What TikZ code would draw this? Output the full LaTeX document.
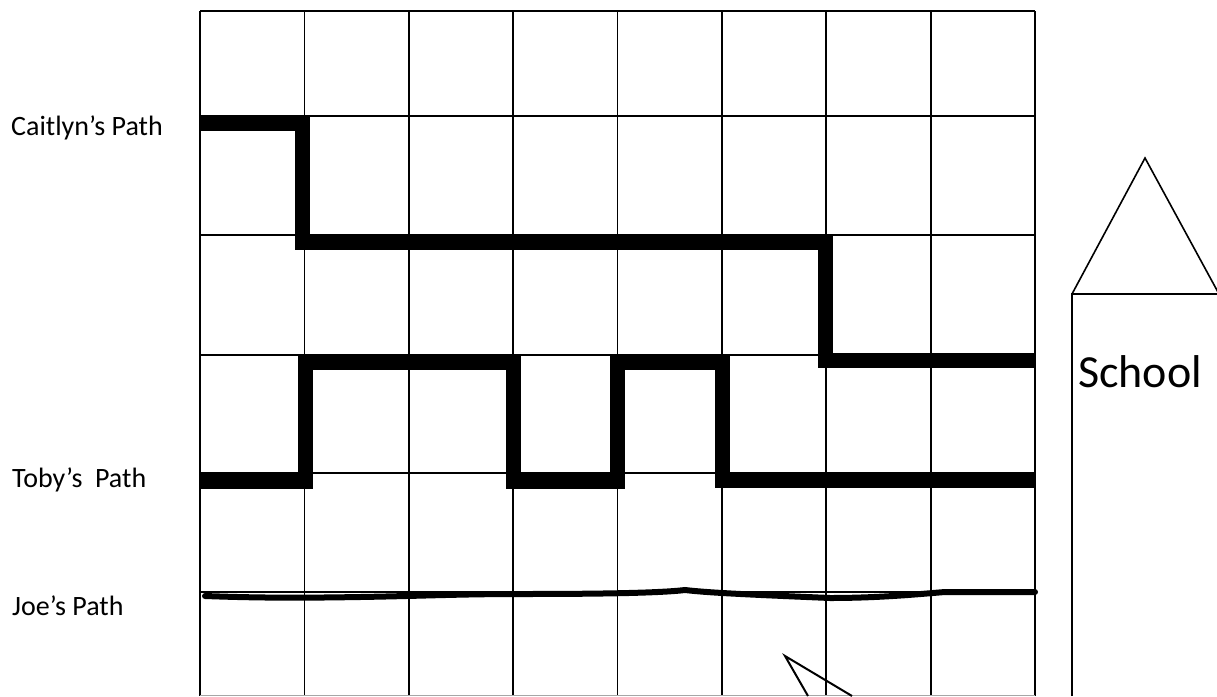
\documentclass[tikz,border=0pt]{standalone}
\usepackage{fontspec}
\setmainfont{Carlito}
\begin{document}
\begin{tikzpicture}[x=1pt,y=-1pt,
  gridline/.style={line width=1.8pt,black},
  pathline/.style={line width=15pt,black,line join=miter,line cap=butt},
  joeline/.style={line width=6pt,black,line cap=round},
  thin/.style={line width=1.6pt,black},
  lbl/.style={anchor=base west,inner sep=0pt,font=\fontsize{28}{30}\selectfont}]
\useasboundingbox (0,0) rectangle (1217,696);
\fill[white] (0,0) rectangle (1217,696);
% grid
\foreach \x in {200,304.4,408.8,513.1,617.5,721.9,826.3,930.6,1035}
  \draw[gridline] (\x,11) -- (\x,696);
\foreach \y in {11,116,235,355,473,592}
  \draw[gridline] (200,\y) -- (1035,\y);
\draw[line width=1.2pt,black!35] (200,695.5) -- (1035,695.5);
% Caitlyn's path
\draw[pathline] (200,123.5) -- (302,123.5) -- (302,242.5) -- (825,242.5) -- (825,360.5) -- (1035,360.5);
% Toby's path
\draw[pathline] (200,481) -- (305,481) -- (305,362) -- (513,362) -- (513,481) -- (617,481) -- (617,362) -- (722,362) -- (722,480) -- (1035,480);
% Joe's path
\draw[joeline] (205,596) .. controls (260,598) and (300,598) .. (360,597)
  .. controls (420,596) and (460,594) .. (520,594)
  .. controls (600,594) and (660,593) .. (685,590)
  .. controls (710,593) and (760,595) .. (830,598)
  .. controls (880,598) and (920,594) .. (945,592)
  -- (1035,592);
% labels
\node[lbl] (caitlyn) at (11,135) {Caitlyn’s Path};
\node[lbl] (toby) at (12,487) {Toby’s \ Path};
\node[lbl] (joe) at (12,615) {Joe’s Path};
% school
\draw[thin] (1072,696) -- (1072,294) -- (1217,294);
\draw[thin] (1072,294) -- (1145,158) -- (1219,294);
\node[anchor=base west,inner sep=0pt,font=\fontsize{46}{50}\selectfont] (school) at (1078,387) {School};
% callout
\draw[line width=2pt,black,line join=miter] (808,696) -- (785,656) -- (852,696);
\end{tikzpicture}
\end{document}
